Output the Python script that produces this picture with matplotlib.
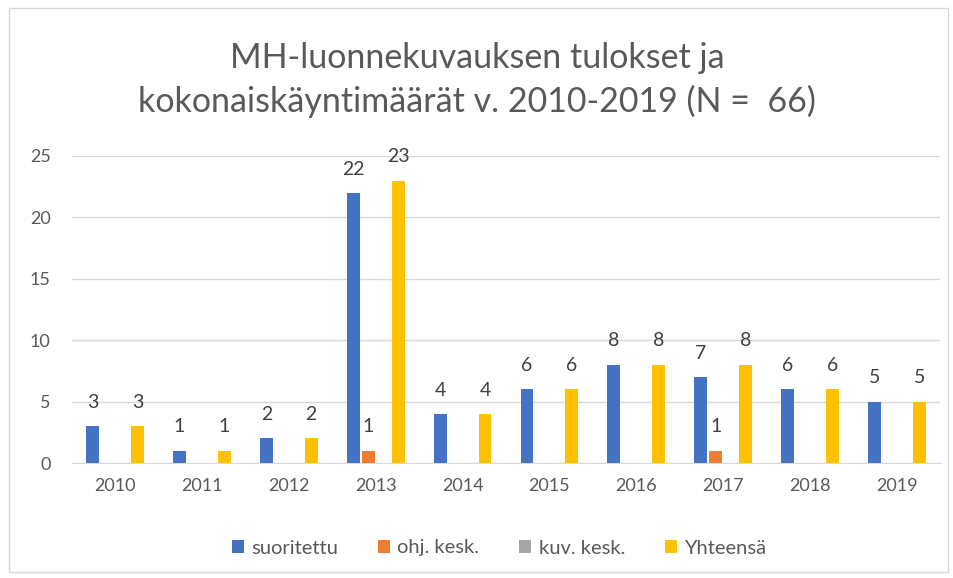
import matplotlib
matplotlib.use("Agg")
import matplotlib.pyplot as plt
import numpy as np
from matplotlib.patches import Rectangle

years = ["2010", "2011", "2012", "2013", "2014", "2015", "2016", "2017", "2018", "2019"]
series_names = ["suoritettu", "ohj. kesk.", "kuv. kesk.", "Yhteensä"]
suoritettu = [3, 1, 2, 22, 4, 6, 8, 7, 6, 5]
ohj_kesk = [0, 0, 0, 1, 0, 0, 0, 1, 0, 0]
kuv_kesk = [0, 0, 0, 0, 0, 0, 0, 0, 0, 0]
yhteensa = [3, 1, 2, 23, 4, 6, 8, 8, 6, 5]
colors = ["#4472C4", "#ED7D31", "#A5A5A5", "#FFC000"]
title = "MH-luonnekuvauksen tulokset ja\nkokonaiskäyntimäärät v. 2010-2019 (N =  66)"

plt.rcParams['font.family'] = ['Lato', 'DejaVu Sans']
txt = "#595959"

fig = plt.figure(figsize=(9.54, 5.78), dpi=100)
fig.patches.append(Rectangle((9/954, 6/578), 939/954, 564/578, transform=fig.transFigure,
                             fill=False, edgecolor="#D9D9D9", lw=1))
ax = fig.add_axes([71.5/954, 1 - 463/578, 869/954, (463 - 156) / 578])
ax.set_ylim(0, 25)

x = np.arange(len(years))
data = [suoritettu, ohj_kesk, kuv_kesk, yhteensa]
step = 0.172
w = 0.148
for i, (vals, c, name) in enumerate(zip(data, colors, series_names)):
    pos = x + (i - 1.5) * step
    ax.bar(pos, vals, width=w, color=c, label=name, zorder=3)
    for p, v in zip(pos, vals):
        if v > 0:
            ax.annotate(str(v), (p, v), xytext=(0, 11), textcoords="offset points",
                        ha="center", va="bottom", fontsize=14, color="#404040")

ax.set_xlim(-0.5, len(years) - 0.5)
ax.set_xticks(x)
ax.set_xticklabels(years)
ax.set_yticks([0, 5, 10, 15, 20, 25])
ax.tick_params(axis="both", length=0, labelsize=13, labelcolor=txt)
ax.tick_params(axis="x", pad=11)
ax.tick_params(axis="y", pad=15)
ax.yaxis.grid(True, color="#D9D9D9", lw=1, zorder=0)
for s in ["top", "right", "left"]:
    ax.spines[s].set_visible(False)
ax.spines["bottom"].set_color("#D9D9D9")

fig.text(0.5, 1 - 80/578, title, ha="center", va="center", fontsize=24.5, color=txt, linespacing=1.42)

fig.legend(loc="center", bbox_to_anchor=(499/954, 1 - 548/578), ncol=4, frameon=False,
           fontsize=14.5, handlelength=0.6, handleheight=0.6, handletextpad=0.35, columnspacing=2.0,
           labelcolor=txt)

fig.savefig("out.png", dpi=100)
